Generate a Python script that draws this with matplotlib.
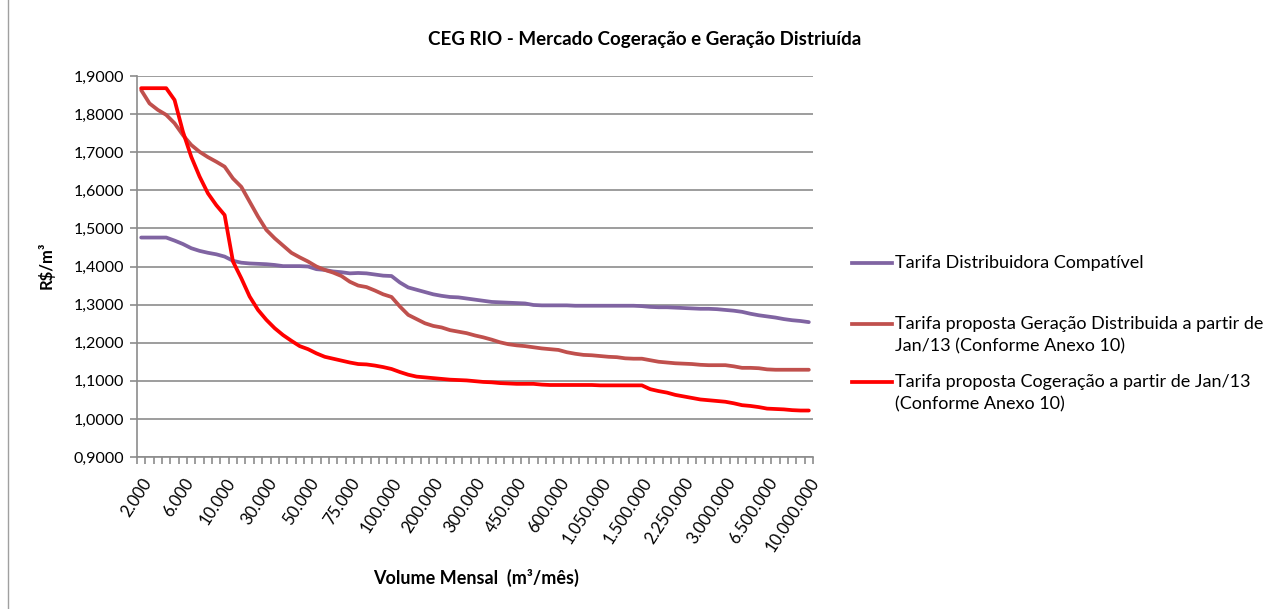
import matplotlib.pyplot as plt
from matplotlib.lines import Line2D
from matplotlib.ticker import FuncFormatter

plt.rcParams['font.family'] = ['Lato', 'DejaVu Sans']

# rótulos visíveis do eixo x (um a cada 5 categorias)
tick_labels = ['2.000', '6.000', '10.000', '30.000', '50.000', '75.000', '100.000',
               '200.000', '300.000', '450.000', '600.000', '1.050.000', '1.500.000',
               '2.250.000', '3.000.000', '6.500.000', '10.000.000']

tarifa_distribuidora = [
    1.476, 1.476, 1.476, 1.476, 1.468, 1.459, 1.448, 1.441, 1.436, 1.432,
    1.426, 1.415, 1.410, 1.408, 1.407, 1.406, 1.404, 1.401, 1.401, 1.401,
    1.400, 1.393, 1.391, 1.387, 1.385, 1.382, 1.383, 1.382, 1.379, 1.376,
    1.375, 1.358, 1.345, 1.339, 1.333, 1.327, 1.323, 1.320, 1.319, 1.316,
    1.313, 1.310, 1.307, 1.306, 1.305, 1.304, 1.303, 1.299, 1.298, 1.298,
    1.298, 1.298, 1.297, 1.297, 1.297, 1.297, 1.297, 1.297, 1.297, 1.297,
    1.296, 1.294, 1.293, 1.293, 1.292, 1.291, 1.290, 1.289, 1.289, 1.288,
    1.286, 1.284, 1.281, 1.276, 1.272, 1.269, 1.266, 1.262, 1.259, 1.257,
    1.254]

tarifa_gd = [
    1.863, 1.828, 1.811, 1.798, 1.776, 1.745, 1.719, 1.701, 1.687, 1.675,
    1.662, 1.631, 1.609, 1.570, 1.531, 1.496, 1.474, 1.455, 1.436, 1.424,
    1.413, 1.400, 1.391, 1.384, 1.375, 1.360, 1.350, 1.346, 1.337, 1.327,
    1.320, 1.295, 1.273, 1.262, 1.251, 1.244, 1.240, 1.233, 1.229, 1.225,
    1.219, 1.214, 1.208, 1.201, 1.196, 1.193, 1.191, 1.188, 1.185, 1.183,
    1.181, 1.175, 1.171, 1.168, 1.167, 1.165, 1.163, 1.162, 1.159, 1.158,
    1.158, 1.154, 1.150, 1.148, 1.146, 1.145, 1.144, 1.142, 1.141, 1.141,
    1.141, 1.138, 1.134, 1.134, 1.133, 1.130, 1.129, 1.129, 1.129, 1.129,
    1.129]

tarifa_cogeracao = [
    1.868, 1.868, 1.868, 1.868, 1.837, 1.754, 1.688, 1.636, 1.592, 1.561,
    1.535, 1.413, 1.369, 1.321, 1.286, 1.260, 1.238, 1.220, 1.205, 1.191,
    1.183, 1.172, 1.163, 1.158, 1.153, 1.148, 1.144, 1.143, 1.140, 1.136,
    1.131, 1.123, 1.116, 1.111, 1.109, 1.107, 1.105, 1.103, 1.102, 1.101,
    1.099, 1.097, 1.096, 1.094, 1.093, 1.092, 1.092, 1.092, 1.090, 1.089,
    1.089, 1.089, 1.089, 1.089, 1.089, 1.088, 1.088, 1.088, 1.088, 1.088,
    1.088, 1.078, 1.073, 1.069, 1.063, 1.059, 1.055, 1.051, 1.049, 1.047,
    1.045, 1.041, 1.036, 1.034, 1.031, 1.027, 1.026, 1.025, 1.023, 1.022,
    1.022]

series = [
    ('Tarifa Distribuidora Compatível', tarifa_distribuidora, '#8064A2'),
    ('Tarifa proposta Geração Distribuida a partir de\nJan/13 (Conforme Anexo 10)', tarifa_gd, '#C0504D'),
    ('Tarifa proposta Cogeração a partir de Jan/13\n(Conforme Anexo 10)', tarifa_cogeracao, '#FF0000'),
]

W, H = 1277, 609
fig = plt.figure(figsize=(W / 100, H / 100), dpi=100)
ax = fig.add_axes([137 / W, 1 - 457 / H, (813 - 137) / W, (457 - 76) / H])

n = len(tarifa_distribuidora)
x = list(range(n))
for name, vals, color in series:
    ax.plot(x, vals, color=color, linewidth=2.7, solid_capstyle='round', zorder=3)

grid_c = '#8c8c8c'
ax.set_ylim(0.9, 1.9)
ax.set_yticks([0.9 + 0.1 * k for k in range(11)])
ax.yaxis.set_major_formatter(FuncFormatter(lambda v, p: f'{v:.4f}'.replace('.', ',')))
ax.grid(axis='y', color=grid_c, linewidth=1.2, zorder=0)

ax.set_xlim(-0.5, n - 0.5)
ax.set_xticks(range(0, n, 5))
ax.set_xticklabels(tick_labels, rotation=57, ha='right', rotation_mode='anchor')
ax.set_xticks([k - 0.5 for k in range(n + 1)], minor=True)
ax.tick_params(axis='x', which='major', length=0, pad=13, labelsize=12)
ax.tick_params(axis='x', which='minor', length=5, color=grid_c, width=1.2)
ax.tick_params(axis='y', length=5, color=grid_c, width=1.2, labelsize=11.5, pad=4)

for s in ['top', 'right']:
    ax.spines[s].set_visible(False)
for s in ['left', 'bottom']:
    ax.spines[s].set_color(grid_c)
    ax.spines[s].set_linewidth(1.2)

fig.text(645 / W, 1 - 40 / H, 'CEG RIO - Mercado Cogeração e Geração Distriuída',
         ha='center', va='center', fontsize=13.5, fontweight='bold')
fig.text(46 / W, 1 - 265 / H, 'R$/m³', rotation=90, ha='center', va='center',
         fontsize=12, fontweight='bold')
fig.text(476 / W, 1 - 578 / H, 'Volume Mensal  (m³/mês)', ha='center', va='center',
         fontsize=13, fontweight='bold')

# legenda manual (estilo Excel: linha alinhada com a primeira linha do texto)
leg_y = [263, 324, 382]
for (name, vals, color), yy in zip(series, leg_y):
    fig.add_artist(Line2D([852 / W, 892 / W], [1 - yy / H, 1 - yy / H],
                          color=color, linewidth=2.7, transform=fig.transFigure))
    fig.text(895 / W, 1 - (yy - 8) / H, name, ha='left', va='top',
             fontsize=13, linespacing=1.45)

# borda do gráfico
fig.add_artist(Line2D([8 / W, 8 / W], [0, 1], color='#a0a0a0', linewidth=1,
                      transform=fig.transFigure))

fig.savefig('out.png', dpi=100)
